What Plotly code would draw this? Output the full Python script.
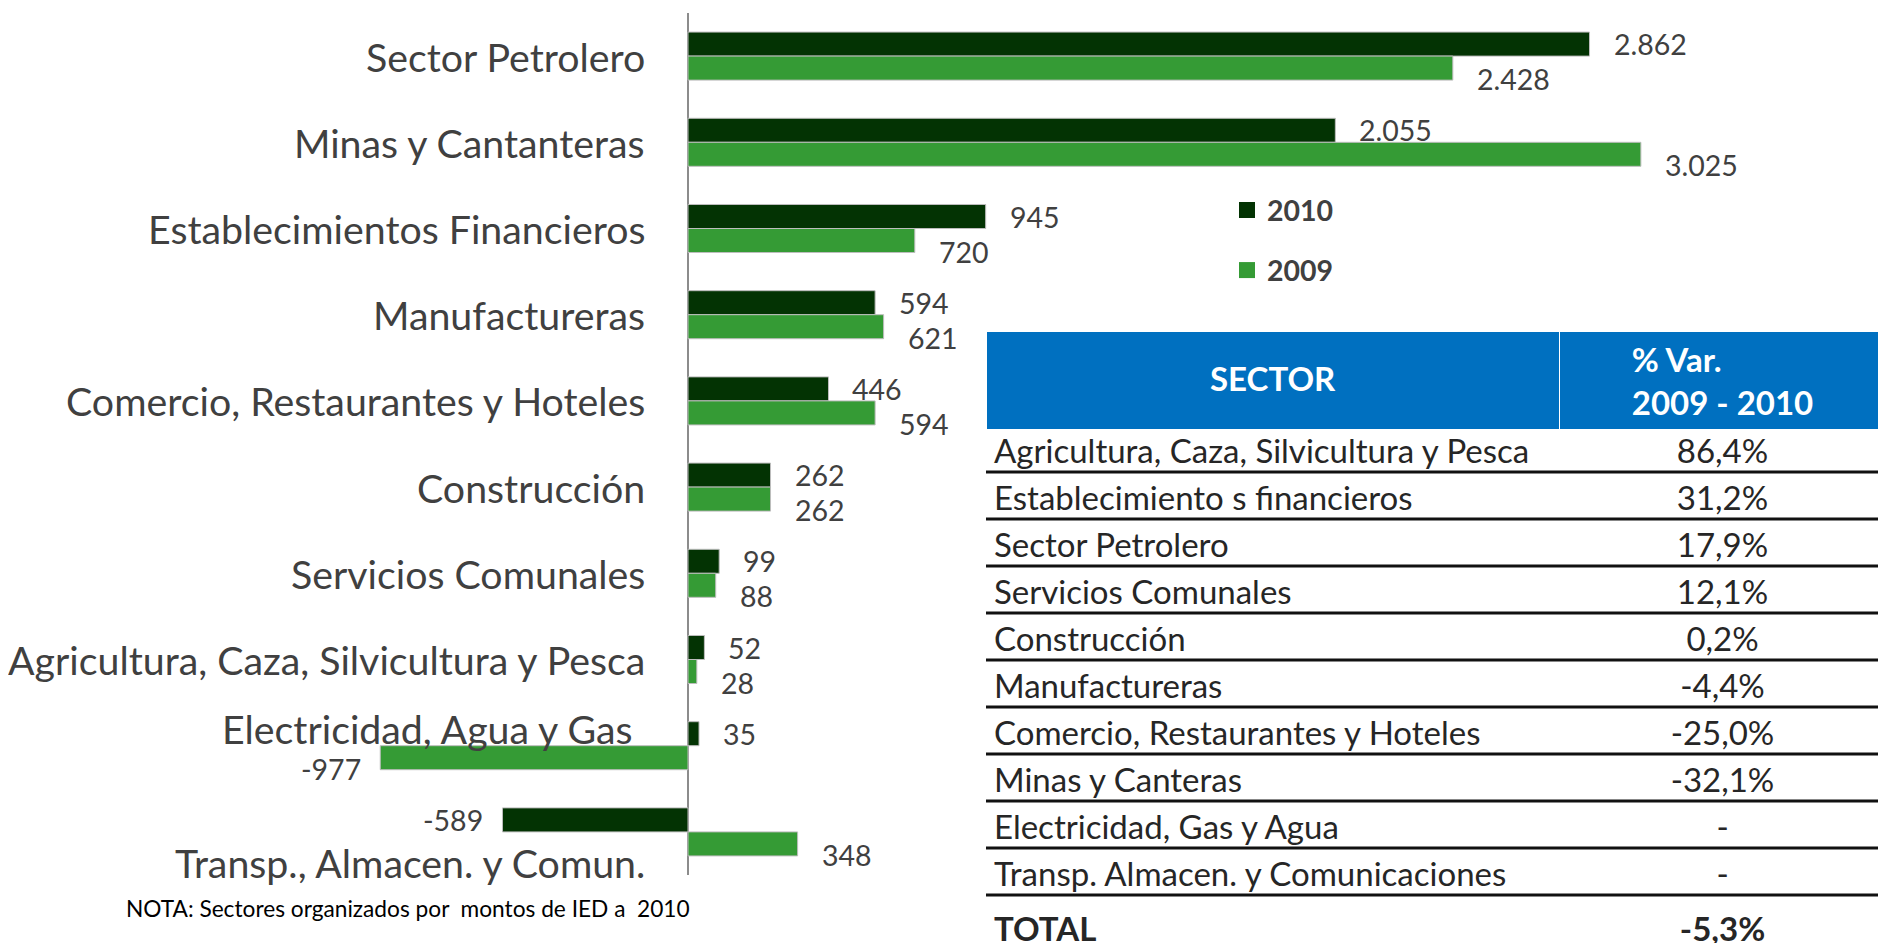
import plotly.graph_objects as go

# ---------------- data ----------------
categories = [
    "Sector Petrolero",
    "Minas y Cantanteras",
    "Establecimientos Financieros",
    "Manufactureras",
    "Comercio, Restaurantes y Hoteles",
    "Construcción",
    "Servicios Comunales",
    "Agricultura, Caza, Silvicultura y Pesca",
    "Electricidad, Agua y Gas",
    "Transp., Almacen. y Comun.",
]
values_2010 = [2862, 2055, 945, 594, 446, 262, 99, 52, 35, -589]
values_2009 = [2428, 3025, 720, 621, 594, 262, 88, 28, -977, 348]

table_header = ["SECTOR", "% Var.<br>2009 - 2010"]
table_sectors = [
    "Agricultura, Caza, Silvicultura y Pesca",
    "Establecimiento s financieros",
    "Sector Petrolero",
    "Servicios Comunales",
    "Construcción",
    "Manufactureras",
    "Comercio, Restaurantes y Hoteles",
    "Minas y Canteras",
    "Electricidad, Gas y Agua",
    "Transp. Almacen. y Comunicaciones",
    "TOTAL",
]
table_var = ["86,4%", "31,2%", "17,9%", "12,1%", "0,2%", "-4,4%",
             "-25,0%", "-32,1%", "-", "-", "-5,3%"]

note_text = "NOTA: Sectores organizados por  montos de IED a  2010"
source_text = "Fuente: Balanza de Pagos, Banco de la República. Cálculos Proexport"

# ---------------- style / geometry ----------------
PAGE_W, PAGE_H = 1886, 943
BODY = 8                      # default page margin of the html body
W, H = PAGE_W - BODY, PAGE_H - BODY
FONT = "Lato, Open Sans, sans-serif"
DARK = "#033303"
LIGHT = "#359B35"
TXT = "#404040"


def fx(px):   # page x pixel -> paper fraction
    return (px - BODY) / W


def fy(py):   # page y pixel -> paper fraction
    return 1 - (py - BODY) / H


def fmt(v):
    return f"{v:,}".replace(",", ".")


fig = go.Figure()
fig.add_trace(go.Bar(
    y=categories, x=values_2010, orientation="h", name="2010", showlegend=False,
    marker=dict(color=DARK, line=dict(color="#bdbdbd", width=1)),
))
fig.add_trace(go.Bar(
    y=categories, x=values_2009, orientation="h", name="2009", showlegend=False,
    marker=dict(color=LIGHT, line=dict(color="#bdbdbd", width=1)),
))
# legend entries (square swatches)
for nm, col, grp in (("2010", DARK, "a"), ("2009", LIGHT, "b")):
    fig.add_trace(go.Scatter(
        x=[None], y=[None], mode="markers", name=f"<b>{nm}</b>",
        marker=dict(symbol="square", size=18, color=col),
        legendgroup=grp, showlegend=True, hoverinfo="skip",
    ))

annotations = []
# category labels next to the value axis
label_yshift = {"Electricidad, Agua y Gas": 17, "Transp., Almacen. y Comun.": -31}
label_xshift = {"Electricidad, Agua y Gas": -12}
for c in categories:
    annotations.append(dict(
        x=0, y=c, xref="x", yref="y", text=c, showarrow=False,
        xanchor="right", yanchor="middle",
        xshift=-41 + label_xshift.get(c, 0), yshift=label_yshift.get(c, 0),
        font=dict(family=FONT, size=39.3, color=TXT),
    ))
# data labels
for series, ys in ((values_2010, 12), (values_2009, -23)):
    for c, v in zip(categories, series):
        annotations.append(dict(
            x=v, y=c, xref="x", yref="y", text=fmt(v), showarrow=False,
            xanchor="left" if v >= 0 else "right", yanchor="middle",
            xshift=22 if v >= 0 else -17, yshift=ys,
            font=dict(family=FONT, size=28.5, color=TXT),
        ))
# footnotes
annotations.append(dict(
    x=fx(124), y=fy(908), xref="paper", yref="paper", text=note_text,
    showarrow=False, xanchor="left", yanchor="middle",
    font=dict(family=FONT, size=22.7, color="#000000"),
))
annotations.append(dict(
    x=fx(124), y=fy(936), xref="paper", yref="paper", text=source_text,
    showarrow=False, xanchor="left", yanchor="top",
    font=dict(family=FONT, size=22.7, color="#000000"),
))

# ---------------- table ----------------
tbl_left, tbl_top, col_split, head_h, row_h = 986, 331, 1559, 94, 47
cell_text_left = [f"<b>{s}</b>" if s == "TOTAL" else s for s in table_sectors]
cell_text_right = [f"<b>{s}</b>" if i == len(table_var) - 1 else s
                   for i, s in enumerate(table_var)]
fig.add_trace(go.Table(
    domain=dict(x=[fx(tbl_left), 1], y=[0, fy(tbl_top)]),
    columnwidth=[col_split - tbl_left, PAGE_W - col_split],
    header=dict(
        values=["", f"<b>{table_header[1]}</b>"],
        fill_color="#0070C0", line=dict(color="white", width=1),
        align="center", height=head_h,
        font=dict(family=FONT, size=33, color="white"),
    ),
    cells=dict(
        values=[cell_text_left, cell_text_right],
        fill_color="white", line=dict(color="white", width=1),
        align=["left", "center"], height=row_h,
        font=dict(family=FONT, size=33, color="#262626"),
    ),
))
# single-line header title, vertically centred in the header band
annotations.append(dict(
    x=fx((tbl_left + col_split) / 2), y=fy(tbl_top + head_h / 2),
    xref="paper", yref="paper", text=f"<b>{table_header[0]}</b>",
    showarrow=False, xanchor="center", yanchor="middle",
    font=dict(family=FONT, size=33, color="white"),
))
shapes = []
for k in range(1, len(table_sectors)):
    yy = fy(tbl_top + head_h + k * row_h)
    shapes.append(dict(type="line", xref="paper", yref="paper",
                       x0=fx(tbl_left), x1=1, y0=yy, y1=yy,
                       line=dict(color="#111111", width=3)))

px_per_unit = 0.315
axis_px = 688 - BODY
fig.update_layout(
    width=W, height=H,
    margin=dict(l=0, r=0, t=0, b=0),
    paper_bgcolor="white", plot_bgcolor="white",
    barmode="group", bargap=0.443, bargroupgap=0,
    xaxis=dict(range=[-axis_px / px_per_unit, (W - axis_px) / px_per_unit],
               domain=[0, 1], showticklabels=False, showgrid=False,
               zeroline=True, zerolinecolor="#8c8c8c", zerolinewidth=2,
               fixedrange=True),
    yaxis=dict(categoryorder="array", categoryarray=categories,
               autorange="reversed", domain=[fy(875), fy(13)],
               showticklabels=False, showgrid=False, zeroline=False,
               showline=False, fixedrange=True),
    showlegend=True,
    legend=dict(x=fx(1227), y=fy(185), xanchor="left", yanchor="top",
                traceorder="grouped", tracegroupgap=20,
                font=dict(family=FONT, size=28.5, color=TXT),
                bgcolor="rgba(0,0,0,0)"),
    annotations=annotations,
    shapes=shapes,
    font=dict(family=FONT),
)

fig.write_html("out.html")
